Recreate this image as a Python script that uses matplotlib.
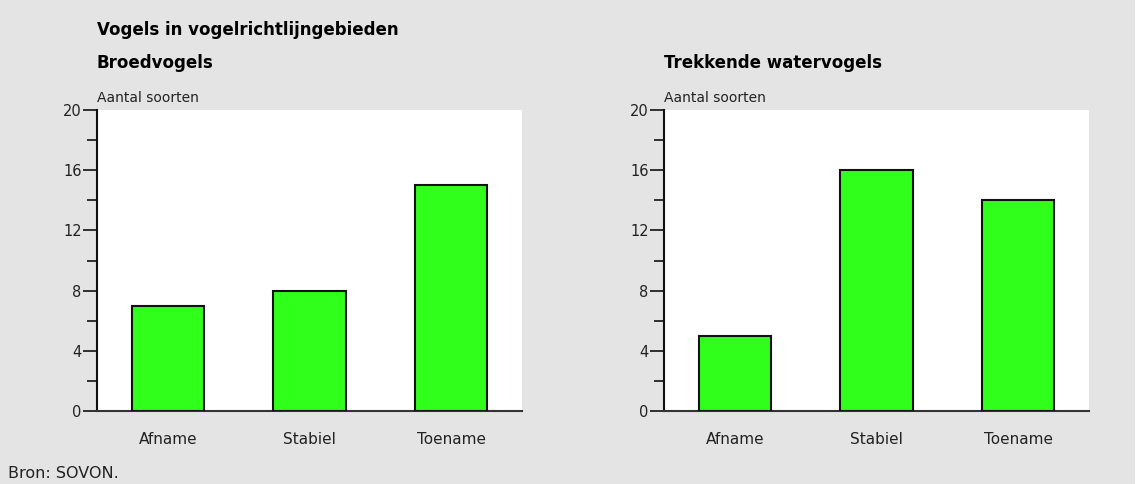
import matplotlib.pyplot as plt
from matplotlib.patches import Rectangle
from matplotlib.ticker import MultipleLocator

categories = ["Afname", "Stabiel", "Toename"]
broedvogels = [7, 8, 15]
watervogels = [5, 16, 14]
yticks = [0, 4, 8, 12, 16, 20]

plt.rcParams["font.family"] = ["DejaVu Sans"]

BG = "#e4e4e4"
GREEN = "#30ff1c"

fig = plt.figure(figsize=(11.4, 4.84), dpi=100, facecolor="white")
fig.patches.append(Rectangle((0, 0), 1135 / 1140, 1, transform=fig.transFigure,
                             facecolor=BG, edgecolor="none", zorder=-10))

fig.text(97 / 1140, 1 - 30 / 484, "Vogels in vogelrichtlijngebieden",
         fontsize=12, fontweight="bold", va="center", ha="left")
fig.text(8 / 1140, 1 - 473 / 484, "Bron: SOVON.", fontsize=11.5, va="center", ha="left",
         color="#222222")


def draw_panel(left, values, title):
    ax = fig.add_axes([left / 1140, 73 / 484, 425 / 1140, 301 / 484])
    ax.set_facecolor("white")
    ax.bar(range(len(categories)), values, width=0.51, color=GREEN,
           edgecolor="#111111", linewidth=1.5, zorder=3)
    ax.set_xlim(-0.5, 2.5)
    ax.set_ylim(0, 20)
    ax.set_yticks(yticks)
    ax.yaxis.set_minor_locator(MultipleLocator(2))
    ax.set_xticks(range(len(categories)))
    ax.set_xticklabels(categories)
    for s in ["top", "right"]:
        ax.spines[s].set_visible(False)
    ax.spines["left"].set_linewidth(1.5)
    ax.spines["left"].set_color("#111111")
    ax.spines["bottom"].set_linewidth(1.5)
    ax.spines["bottom"].set_color("#333333")
    ax.tick_params(axis="y", which="major", length=10, width=1.3, labelsize=10.5,
                   pad=1, colors="#222222")
    ax.tick_params(axis="y", which="minor", length=7, width=1.3, color="#222222")
    ax.tick_params(axis="x", length=0, pad=15, labelsize=11, colors="#222222")
    fig.text(left / 1140, 1 - 63 / 484, title, fontsize=12, fontweight="bold",
             va="center", ha="left")
    fig.text(left / 1140, 1 - 98 / 484, "Aantal soorten", fontsize=10,
             va="center", ha="left", color="#222222")
    return ax


draw_panel(97, broedvogels, "Broedvogels")
draw_panel(664, watervogels, "Trekkende watervogels")

fig.savefig("out.png", dpi=100, facecolor=fig.get_facecolor())
